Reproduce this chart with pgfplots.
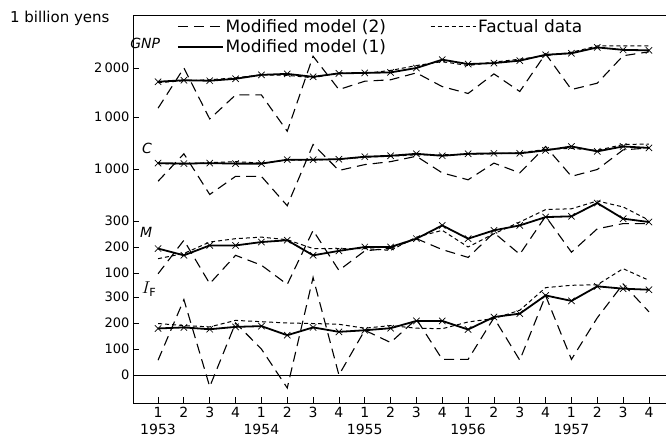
\documentclass[border=0pt]{standalone}
\usepackage{fontspec}
\setmainfont{DejaVu Sans}
\usepackage{pgfplots}
\usepackage{pgfplotstable}
\pgfplotsset{compat=1.18}

% quarterly series, 1953 Q1 = 0
\pgfplotstableread{
q m2 m1 fa
0 1180 1720 1700
1 2000 1750 1740
2 960 1740 1760
3 1450 1780 1800
4 1450 1860 1860
5 710 1880 1850
6 2240 1820 1800
7 1560 1890 1900
8 1730 1900 1890
9 1760 1910 1950
10 1900 2000 2050
11 1620 2170 2130
12 1480 2080 2050
13 1880 2100 2120
14 1520 2150 2180
15 2290 2270 2250
16 1560 2300 2320
17 1690 2420 2450
18 2250 2370 2450
19 2330 2360 2450
}\gnp

\pgfplotstableread{
q m2 m1 fa
0 750 1120 1110
1 1310 1110 1100
2 480 1120 1130
3 850 1110 1150
4 850 1110 1120
5 250 1190 1180
6 1500 1190 1180
7 970 1200 1200
8 1090 1250 1240
9 1150 1270 1260
10 1260 1310 1290
11 920 1270 1290
12 780 1310 1300
13 1120 1320 1310
14 920 1320 1330
15 1460 1380 1400
16 850 1460 1420
17 990 1360 1380
18 1390 1460 1500
19 1430 1430 1510
}\cons

\pgfplotstableread{
q m2 m1 fa
0 97 194 155
1 226 168 175
2 59 206 219
3 168 206 232
4 130 219 238
5 56 226 228
6 264 168 194
7 110 185 194
8 185 200 194
9 195 200 187
10 232 232 238
11 190 283 264
12 160 232 200
13 255 264 251
14 172 283 296
15 318 315 344
16 180 318 347
17 270 369 377
18 290 309 354
19 290 296 303
}\imp

\pgfplotstableread{
q m2 m1 fa
0 57 179 198
1 290 183 190
2 -45 176 185
3 200 185 210
4 100 188 205
5 -50 153 200
6 375 183 198
7 0 166 195
8 172 172 180
9 125 180 190
10 215 208 180
11 60 208 178
12 60 175 204
13 220 223 217
14 57 236 249
15 305 306 336
16 60 285 345
17 220 341 347
18 350 332 409
19 243 328 364
}\inv

\pgfplotsset{
  mtwo/.style={black, line width=1.1bp, dash pattern=on 10bp off 6bp},
  mone/.style={black, line width=1.8bp, mark=x, mark size=4.5bp, mark options={solid, line width=0.7bp}},
  fact/.style={black, line width=1.0bp, dash pattern=on 4bp off 3bp},
}

\begin{document}
\begin{tikzpicture}
\begin{axis}[
  at={(0,0)}, anchor=south west,
  scale only axis, width=533bp, height=388bp,
  xmin=-0.97, xmax=19.66, ymin=39, ymax=427,
  axis x line*=bottom, axis y line*=left,
  axis line style={-, line width=0.9bp},
  clip=false,
  tick align=inside, major tick length=6bp,
  tick style={black, line width=0.8bp},
  xtick={0,...,19},
  xticklabels={1\\1953,2,3,4,1\\1954,2,3,4,1\\1955,2,3,4,1\\1956,2,3,4,1\\1957,2,3,4},
  xticklabel style={align=center, font=\fontsize{14bp}{17bp}\selectfont, yshift=-1bp},
  ytick={67,93,119,145,169,195,221,273,325,374},
  yticklabels={0,100,200,300,100,200,300,1\,000,1\,000,2\,000},
  yticklabel style={font=\fontsize{13bp}{15bp}\selectfont},
  /pgf/number format/assume math mode=true,
  legend columns=2,
  legend cell align=left,
  legend image code/.code={\draw[#1] (0bp,0bp) -- (45bp,0bp);},
  legend style={draw=none, fill=none, inner sep=0pt, row sep=2bp,
    at={(axis description cs:0.082,0.995)}, anchor=north west,
    font=\fontsize{17bp}{19bp}\selectfont,
    /tikz/every even column/.append style={column sep=42bp}},
]
\addlegendimage{mtwo}\addlegendentry{Modified model (2)}
\addlegendimage{fact}\addlegendentry{Factual data}
\addlegendimage{mone}\addlegendentry{Modified model (1)}

% GNP
\addplot[mtwo, forget plot] table[x=q, y expr=276+0.049*\thisrow{m2}] {\gnp};
\addplot[fact, forget plot] table[x=q, y expr=276+0.049*\thisrow{fa}] {\gnp};
\addplot[mone, forget plot] table[x=q, y expr=276+0.049*\thisrow{m1}] {\gnp};
% C
\addplot[mtwo, forget plot] table[x=q, y expr=224+0.049*\thisrow{m2}] {\cons};
\addplot[fact, forget plot] table[x=q, y expr=224+0.049*\thisrow{fa}] {\cons};
\addplot[mone, forget plot] table[x=q, y expr=224+0.049*\thisrow{m1}] {\cons};
% M
\addplot[mtwo, forget plot] table[x=q, y expr=143+0.26*\thisrow{m2}] {\imp};
\addplot[fact, forget plot] table[x=q, y expr=143+0.26*\thisrow{fa}] {\imp};
\addplot[mone, forget plot] table[x=q, y expr=143+0.26*\thisrow{m1}] {\imp};
% I_F
\addplot[mtwo, forget plot] table[x=q, y expr=67+0.26*\thisrow{m2}] {\inv};
\addplot[fact, forget plot] table[x=q, y expr=67+0.26*\thisrow{fa}] {\inv};
\addplot[mone, forget plot] table[x=q, y expr=67+0.26*\thisrow{m1}] {\inv};

\draw[line width=0.8bp] (axis cs:-0.97,67) -- (axis cs:19.66,67);
\draw[line width=0.9bp] (rel axis cs:0,1) -- (rel axis cs:1,1);

\node[font=\fontsize{14bp}{16bp}\selectfont\itshape] at (axis cs:-0.5,399) {GNP};
\node[font=\fontsize{14bp}{16bp}\selectfont\itshape] at (axis cs:-0.43,294) {C};
\node[font=\fontsize{14bp}{16bp}\selectfont\itshape] at (axis cs:-0.46,210) {M};
\node[font=\fontsize{16bp}{18bp}\selectfont] at (axis cs:-0.35,153) {$I_{\mathrm{F}}$};
\end{axis}
\node[anchor=east, font=\fontsize{15bp}{17bp}\selectfont] at (-20bp,385bp) {1 billion yens};
\pgfresetboundingbox
\path (-133bp,-39bp) rectangle (533bp,403bp);
\end{tikzpicture}
\end{document}
